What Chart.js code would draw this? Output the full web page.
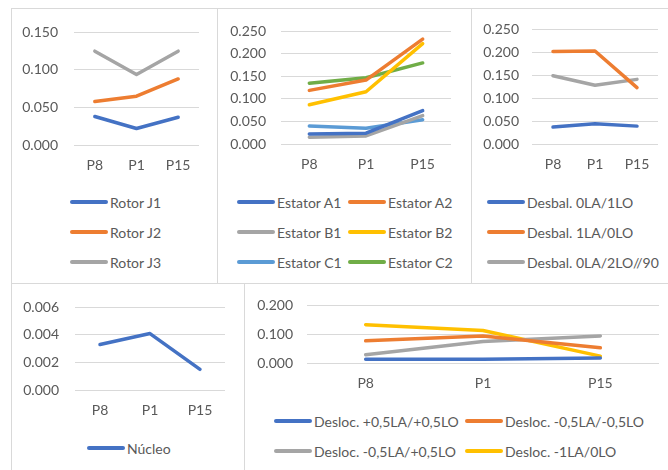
<!DOCTYPE html>
<html>
<head>
<meta charset="utf-8">
<script src="https://cdn.jsdelivr.net/npm/chart.js@4.4.0/dist/chart.umd.min.js"></script>
<style>
body{margin:0;width:668px;height:470px;background:#fff;position:relative;overflow:hidden;font-family:Lato,sans-serif;color:#595959}
.panel{position:absolute;border:1px solid #d9d9d9;box-sizing:border-box;overflow:hidden}
.panel canvas{position:absolute;left:-1px;top:-1px}
.legend{position:absolute;display:grid;font-size:14px}
.item{display:flex;align-items:center;height:30px;white-space:nowrap}
.item i{display:inline-block;width:38px;height:4px;margin-right:2px;border-radius:2px}
</style>
</head>
<body>
<div class="panel" style="left:11px;top:8px;width:207px;height:276px"><canvas id="c1"></canvas><div class="legend" id="l1"></div></div>
<div class="panel" style="left:217px;top:8px;width:255px;height:276px"><canvas id="c2"></canvas><div class="legend" id="l2"></div></div>
<div class="panel" style="left:471px;top:8px;width:210px;height:276px"><canvas id="c3"></canvas><div class="legend" id="l3"></div></div>
<div class="panel" style="left:11px;top:283px;width:234px;height:200px"><canvas id="c4"></canvas><div class="legend" id="l4"></div></div>
<div class="panel" style="left:244px;top:283px;width:440px;height:200px"><canvas id="c5"></canvas><div class="legend" id="l5"></div></div>
<script>
// ---- Data ----
const points = ['P8','P1','P15'];

const rotorNames = ['Rotor J1','Rotor J2','Rotor J3'];
const rotorJ1 = [0.038,0.022,0.037];
const rotorJ2 = [0.058,0.065,0.088];
const rotorJ3 = [0.125,0.094,0.125];

const estatorNames = ['Estator A1','Estator A2','Estator B1','Estator B2','Estator C1','Estator C2'];
const estatorA1 = [0.022,0.024,0.074];
const estatorA2 = [0.119,0.142,0.233];
const estatorB1 = [0.015,0.018,0.063];
const estatorB2 = [0.087,0.116,0.223];
const estatorC1 = [0.040,0.035,0.054];
const estatorC2 = [0.135,0.147,0.180];

const desbalNames = ['Desbal. 0LA/1LO','Desbal. 1LA/0LO','Desbal. 0LA/2LO//90'];
const desbal0LA1LO = [0.037,0.044,0.039];
const desbal1LA0LO = [0.202,0.203,0.123];
const desbal0LA2LO = [0.149,0.128,0.141];

const nucleoNames = ['Núcleo'];
const nucleo = [0.0033,0.0041,0.0015];

const deslocNames = ['Desloc. +0,5LA/+0,5LO','Desloc. -0,5LA/-0,5LO','Desloc. -0,5LA/+0,5LO','Desloc. -1LA/0LO'];
const deslocPP = [0.013,0.013,0.017];
const deslocMM = [0.077,0.094,0.053];
const deslocMP = [0.029,0.075,0.094];
const desloc1LA = [0.133,0.113,0.024];

// ---- Styles ----
const BLUE='#4472c4', ORANGE='#ed7d31', GRAY='#a5a5a5', YELLOW='#ffc000', LBLUE='#5b9bd5', GREEN='#70ad47';
const TXT='#595959', GRID='#d9d9d9';

function makeChart(o){
  const cv = document.getElementById(o.id);
  cv.width = o.w; cv.height = o.h;
  new Chart(cv, {
    type:'line',
    data:{
      labels:points,
      datasets:o.series.map((s,i)=>({
        label:o.names[i], data:s, borderColor:o.colors[i], backgroundColor:o.colors[i],
        borderWidth:3.5, pointRadius:0, tension:0, borderCapStyle:'round', borderJoinStyle:'round', fill:false
      }))
    },
    options:{
      responsive:false, animation:false,
      layout:{padding:{top:o.top,right:o.right,left:0,bottom:0}},
      plugins:{legend:{display:false},tooltip:{enabled:false}},
      scales:{
        x:{offset:true,grid:{display:false,drawTicks:false},border:{display:false},
           ticks:{padding:12,color:TXT,maxRotation:0,font:{family:'Lato',size:14}},
           afterFit:s=>{s.height=35;}},
        y:{min:0,max:o.max,border:{display:false},grid:{color:GRID,drawTicks:false},
           ticks:{stepSize:o.step,padding:o.pad,color:TXT,font:{family:'Lato',size:14},callback:v=>v.toFixed(3)},
           afterFit:s=>{s.width=o.axisW;}}
      }
    }
  });
  // legend
  const lg = document.getElementById(o.lid);
  lg.style.left = o.lx+'px'; lg.style.top = o.ly+'px';
  lg.style.gridTemplateColumns = o.cols.map(c=>c+'px').join(' ');
  o.names.forEach((n,i)=>{
    const d = document.createElement('div');
    d.className='item';
    d.innerHTML = `<i style="background:${o.colors[i]}"></i>${n}`;
    lg.appendChild(d);
  });
}

makeChart({id:'c1',lid:'l1',w:207,h:172,names:rotorNames,series:[rotorJ1,rotorJ2,rotorJ3],colors:[BLUE,ORANGE,GRAY],
  max:0.15,step:0.05,axisW:63,pad:16,top:20,right:19,lx:58,ly:178,cols:[140]});
makeChart({id:'c2',lid:'l2',w:255,h:171,names:estatorNames,series:[estatorA1,estatorA2,estatorB1,estatorB2,estatorC1,estatorC2],
  colors:[BLUE,ORANGE,GRAY,YELLOW,LBLUE,GREEN],max:0.25,step:0.05,axisW:64,pad:15,top:20,right:21,lx:19,ly:178,cols:[111,120]});
makeChart({id:'c3',lid:'l3',w:197,h:171,names:desbalNames,series:[desbal0LA1LO,desbal1LA0LO,desbal0LA2LO],
  colors:[BLUE,ORANGE,GRAY],max:0.25,step:0.05,axisW:61,pad:13,top:20,right:10,lx:15,ly:178,cols:[180]});
makeChart({id:'c4',lid:'l4',w:234,h:142,names:nucleoNames,series:[nucleo],colors:[BLUE],
  max:0.006,step:0.002,axisW:64,pad:16,top:22,right:20,lx:75,ly:149,cols:[120]});
makeChart({id:'c5',lid:'l5',w:424,h:115,names:deslocNames,series:[deslocPP,deslocMM,deslocMP,desloc1LA],
  colors:[BLUE,ORANGE,GRAY,YELLOW],max:0.2,step:0.1,axisW:63,pad:14,top:21,right:9,lx:29,ly:122,cols:[191,200]});
</script>
</body>
</html>
